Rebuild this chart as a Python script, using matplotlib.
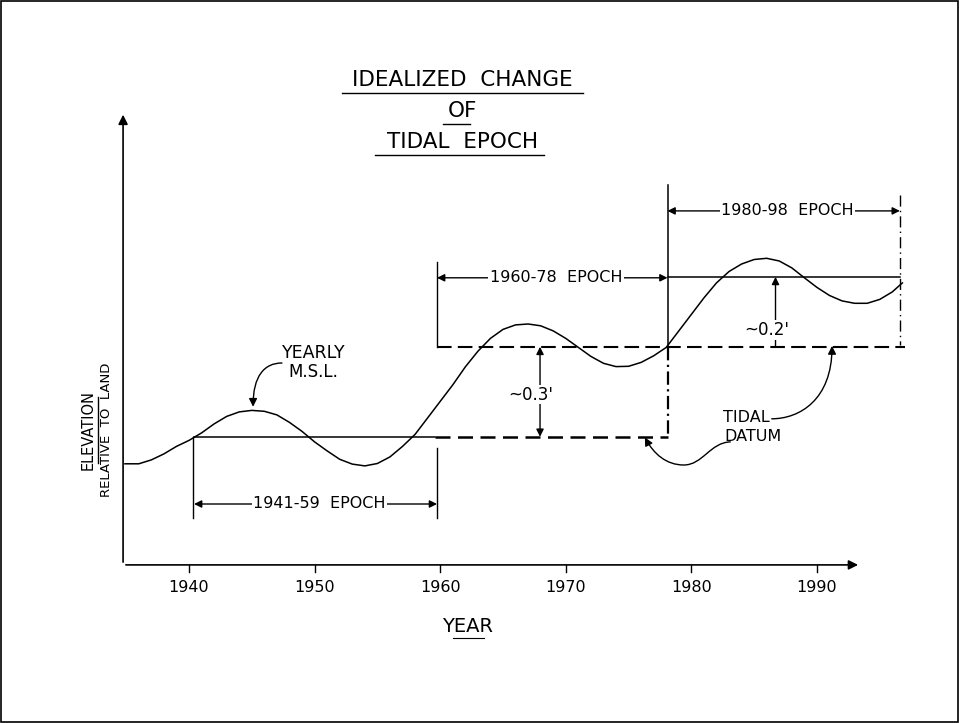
import matplotlib
matplotlib.use("Agg")
import matplotlib.pyplot as plt
from matplotlib.path import Path
from matplotlib.patches import FancyArrowPatch, Rectangle
import numpy as np

plt.rcParams['font.family'] = ['DejaVu Sans']

# yearly mean sea level (year, elevation in ft)
years = [1934.9, 1936, 1937, 1938, 1939, 1940, 1941, 1942, 1943, 1944, 1945,
         1946, 1947, 1948, 1949, 1950, 1951, 1952, 1953, 1954, 1955, 1956,
         1957, 1958, 1959, 1960, 1961, 1962, 1963, 1964, 1965, 1966, 1967,
         1968, 1969, 1970, 1971, 1972, 1973, 1974, 1975, 1976, 1977, 1978,
         1979, 1980, 1981, 1982, 1983, 1984, 1985, 1986, 1987, 1988, 1989,
         1990, 1991, 1992, 1993, 1994, 1995, 1996, 1996.8]
msl = [0.337, 0.337, 0.35, 0.37, 0.395, 0.415, 0.44, 0.47, 0.495, 0.51, 0.515,
       0.512, 0.50, 0.475, 0.445, 0.41, 0.38, 0.352, 0.336, 0.33, 0.338, 0.36,
       0.395, 0.435, 0.49, 0.545, 0.60, 0.66, 0.712, 0.755, 0.785, 0.80, 0.803,
       0.797, 0.78, 0.755, 0.725, 0.695, 0.672, 0.661, 0.662, 0.675, 0.697, 0.725,
       0.78, 0.835, 0.89, 0.94, 0.978, 1.003, 1.018, 1.022, 1.013, 0.99, 0.957,
       0.925, 0.898, 0.88, 0.872, 0.872, 0.885, 0.91, 0.94]

# tidal datums (mean of each 19-year epoch)
epoch_start = [1940.4, 1959.75, 1978.1]
epoch_end = [1959.75, 1978.1, 1996.6]
epoch_labels = ['1941-59  EPOCH', '1960-78  EPOCH', '1980-98  EPOCH']
datum = [0.427, 0.727, 0.96]
epoch_arrow_y = [0.203, 0.957, 1.18]

tick_years = [1940, 1950, 1960, 1970, 1980, 1990]

fig = plt.figure(figsize=(9.6, 7.23), dpi=100)
ax = fig.add_axes([0, 0, 1, 1])
ax.set_xlim(1924.95, 2001.39)
ax.set_ylim(-0.527, 1.883)
ax.axis('off')
fig.patches.append(Rectangle((0.001, 0.001), 0.997, 0.997, transform=fig.transFigure,
                             fill=False, ec='black', lw=1.2))

k = 'black'
# axes with arrows
ax.annotate('', xy=(1993.5, 0), xytext=(1934.75, 0),
            arrowprops=dict(arrowstyle='-|>', color=k, lw=1.2, mutation_scale=14))
ax.annotate('', xy=(1934.75, 1.51), xytext=(1934.75, 0),
            arrowprops=dict(arrowstyle='-|>', color=k, lw=1.2, mutation_scale=14))
for t in tick_years:
    ax.plot([t, t], [0, -0.022], color=k, lw=1)
    ax.text(t, -0.077, str(t), ha='center', va='center', fontsize=11.5, color=k)

# yearly msl curve
ax.plot(years, msl, color=k, lw=1.1)

# datum lines
ax.plot([epoch_start[0], 1959.6], [datum[0]] * 2, color=k, lw=1.1)
ax.plot([1959.6, epoch_end[0] + 18.35], [datum[0]] * 2, color=k, lw=1.8, ls=(0, (6, 3)))
ax.plot([epoch_start[1], 1997.0], [datum[1]] * 2, color=k, lw=1.5, ls=(0, (7, 3)))
ax.plot([epoch_start[2], epoch_end[2]], [datum[2]] * 2, color=k, lw=1.1)

# extension lines
ax.plot([1940.3, 1940.3], [datum[0], 0.157], color=k, lw=1)
ax.plot([epoch_start[1]] * 2, [0.39, 0.157], color=k, lw=1)
ax.plot([epoch_start[1]] * 2, [1.01, datum[1]], color=k, lw=1)
ax.plot([epoch_start[2]] * 2, [1.267, datum[1]], color=k, lw=1.1)
ax.plot([epoch_start[2]] * 2, [datum[1], datum[0]], color=k, lw=1.6, ls=(0, (6, 2, 1, 2)))
ax.plot([epoch_end[2]] * 2, [1.233, 0.733], color=k, lw=1, ls=(0, (8, 3, 1, 3)))

# epoch dimension arrows
for s, e, y, lab in zip(epoch_start, epoch_end, epoch_arrow_y, epoch_labels):
    ax.annotate('', xy=(e, y), xytext=(s, y),
                arrowprops=dict(arrowstyle='<|-|>', color=k, lw=1, mutation_scale=11,
                                shrinkA=0, shrinkB=0))
    ax.text((s + e) / 2 + 0.3, y, lab, ha='center', va='center', fontsize=11.5, color=k,
            bbox=dict(fc='white', ec='none', pad=1))

# difference arrows
ax.annotate('', xy=(1967.95, datum[0]), xytext=(1967.95, datum[1]),
            arrowprops=dict(arrowstyle='<|-|>', color=k, lw=1, mutation_scale=11,
                            shrinkA=0, shrinkB=0))
ax.text(1967.2, 0.567, "~0.3'", ha='center', va='center', fontsize=12, color=k,
        bbox=dict(fc='white', ec='none', pad=0.5))
ax.annotate('', xy=(1986.7, datum[2]), xytext=(1986.7, datum[1]),
            arrowprops=dict(arrowstyle='-|>', color=k, lw=1, mutation_scale=11,
                            shrinkA=0, shrinkB=0))
ax.text(1986.0, 0.783, "~0.2'", ha='center', va='center', fontsize=12, color=k,
        bbox=dict(fc='white', ec='none', pad=0.5))

# labels with leaders
ax.text(1949.9, 0.707, 'YEARLY', ha='center', va='center', fontsize=12.5, color=k)
ax.text(1949.9, 0.643, 'M.S.L.', ha='center', va='center', fontsize=12, color=k)
ax.text(1984.4, 0.49, 'TIDAL', ha='center', va='center', fontsize=11.5, color=k)
ax.text(1984.9, 0.427, 'DATUM', ha='center', va='center', fontsize=11.5, color=k)

C4 = Path.CURVE4
leaders = [
    ([(1947.4, 0.673), (1946.0, 0.673), (1945.1, 0.63), (1945.1, 0.527)],
     [Path.MOVETO, C4, C4, C4]),
    ([(1986.4, 0.487), (1988.6, 0.487), (1991.2, 0.55), (1991.2, 0.73)],
     [Path.MOVETO, C4, C4, C4]),
    ([(1983.1, 0.41), (1981.5, 0.408), (1980.9, 0.333), (1979.4, 0.333),
      (1978.0, 0.333), (1977.0, 0.37), (1976.3, 0.425)],
     [Path.MOVETO, C4, C4, C4, C4, C4, C4]),
]
for verts, codes in leaders:
    ax.add_patch(FancyArrowPatch(path=Path(verts, codes), arrowstyle='-|>',
                                 mutation_scale=12, color=k, lw=1))

# title
title_lines = ['IDEALIZED  CHANGE', 'OF', 'TIDAL  EPOCH']
title_y = [1.617, 1.513, 1.41]
title_ul = [(1952.2, 1971.4), (1960.2, 1962.4), (1954.8, 1968.3)]
for txt, y, (a, b) in zip(title_lines, title_y, title_ul):
    ax.text(1961.8, y, txt, ha='center', va='center', fontsize=15.5, color=k)
    ax.plot([a, b], [y - 0.043, y - 0.043], color=k, lw=1)

# axis titles
ax.text(1962.2, -0.207, 'YEAR', ha='center', va='center', fontsize=14, color=k)
ax.plot([1961.0, 1963.5], [-0.243, -0.243], color=k, lw=0.8)
ax.text(1932.0, 0.45, 'ELEVATION', rotation=90, ha='center', va='center', fontsize=10.5, color=k)
ax.plot([1932.75, 1932.75], [0.34, 0.56], color=k, lw=1)
ax.text(1933.45, 0.45, 'RELATIVE  TO  LAND', rotation=90, ha='center', va='center',
        fontsize=9.5, color=k)

fig.savefig('out.png', dpi=100)
